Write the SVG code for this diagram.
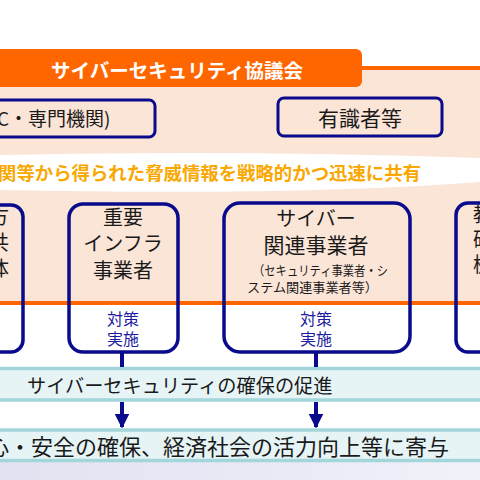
<svg xmlns="http://www.w3.org/2000/svg" width="480" height="480" viewBox="0 0 480 480">
<defs>
<style>
.jp{font-family:"Noto Sans CJK JP","Noto Sans CJK SC",sans-serif;}
.box{fill:none;stroke:#0a0a8c;stroke-width:3.5;}
.tbox{fill:#fbe5d7;stroke:#0a0a8c;stroke-width:3;}
.blk{fill:#1a1a1a;}
.nav{fill:#1c1ca0;}
.band{fill:#e6f4f6;}
.bl{stroke:#a3d6db;stroke-width:3.5;}
.conn{stroke:#0a0a8c;stroke-width:4;fill:none;}
</style>
<linearGradient id="lav" x1="0" y1="0" x2="1" y2="0">
<stop offset="0" stop-color="#e2e2f2"/>
<stop offset="0.6" stop-color="#eaeaf6"/>
<stop offset="1" stop-color="#f2f2fa"/>
</linearGradient>
<marker id="ah" viewBox="0 0 10 10" refX="9" refY="5" markerWidth="3.6" markerHeight="3.6" orient="auto">
<path d="M0,0 L10,5 L0,10 Z" fill="#0a0a8c"/>
</marker>
</defs>
<rect width="480" height="480" fill="#ffffff"/>
<g id="background">
<rect x="0" y="68" width="480" height="235" fill="#fbe5d7"/>
<rect x="0" y="66" width="480" height="4" fill="#ff6600"/>
<path d="M0,49 H356 a6,6 0 0 1 6,6 V81 a6,6 0 0 1 -6,6 H0 Z" fill="#ff6600"/>
<rect x="0" y="301" width="480" height="4" fill="#ff6600"/>
<path d="M0,155 Q240,150 480,158 L480,182 Q300,196 0,190 Z" fill="#ffffff"/>
<rect x="0" y="462" width="480" height="18" fill="url(#lav)"/>
</g>
<g id="title">
<text class="jp" x="177" y="78" text-anchor="middle" font-size="19.5" font-weight="bold" fill="#ffffff">サイバーセキュリティ協議会</text>
</g>
<g id="node-expert-org">
<rect class="tbox" x="-20" y="100" width="175" height="37" rx="6"/>
<text class="jp blk" x="-3" y="126" font-size="19">C・専門機関)</text>
</g>
<g id="node-experts">
<rect class="tbox" x="278" y="98" width="164" height="38" rx="6"/>
<text class="jp blk" x="360" y="126" text-anchor="middle" font-size="21">有識者等</text>
</g>
<g id="banner">
<text class="jp" x="-2" y="180" font-size="18.4" font-weight="bold" fill="#f8a800">関等から得られた脅威情報を戦略的かつ迅速に共有</text>
</g>
<g id="node-local-gov">
<rect class="box" x="-20" y="205" width="43" height="147" rx="12"/>
<text class="jp blk" x="9" y="224" text-anchor="end" font-size="20">地方</text>
<text class="jp blk" x="9" y="250" text-anchor="end" font-size="20">公共</text>
<text class="jp blk" x="9" y="276" text-anchor="end" font-size="20">団体</text>
</g>
<g id="node-infra">
<rect class="box" x="69" y="204" width="109" height="148" rx="14"/>
<text class="jp blk" x="123" y="225" text-anchor="middle" font-size="20">重要</text>
<text class="jp blk" x="123" y="251" text-anchor="middle" font-size="20">インフラ</text>
<text class="jp blk" x="123" y="278" text-anchor="middle" font-size="20">事業者</text>
<text class="jp nav" x="123" y="325" text-anchor="middle" font-size="16">対策</text>
<text class="jp nav" x="123" y="345" text-anchor="middle" font-size="16">実施</text>
</g>
<g id="node-cyber-biz">
<rect class="box" x="224" y="203" width="186" height="149" rx="16"/>
<text class="jp blk" x="316" y="226" text-anchor="middle" font-size="20">サイバー</text>
<text class="jp blk" x="316" y="253" text-anchor="middle" font-size="21">関連事業者</text>
<text class="jp blk" x="253" y="275" font-size="13" textLength="135" lengthAdjust="spacingAndGlyphs">（セキュリティ事業者・シ</text>
<text class="jp blk" x="247" y="292" font-size="13" textLength="131" lengthAdjust="spacingAndGlyphs">ステム関連事業者等）</text>
<text class="jp nav" x="316" y="325" text-anchor="middle" font-size="16">対策</text>
<text class="jp nav" x="316" y="345" text-anchor="middle" font-size="16">実施</text>
</g>
<g id="node-edu">
<rect class="box" x="456" y="203" width="50" height="149" rx="12"/>
<text class="jp blk" x="473" y="222" font-size="20">教育</text>
<text class="jp blk" x="473" y="247" font-size="20">研究</text>
<text class="jp blk" x="473" y="272" font-size="20">機関</text>
</g>
<g id="node-promote">
<rect class="band" x="0" y="368" width="480" height="32"/>
<line class="bl" x1="0" y1="368.5" x2="480" y2="368.5"/>
<line class="bl" x1="0" y1="400" x2="480" y2="400"/>
<text class="jp blk" x="27" y="393" font-size="19.2">サイバーセキュリティの確保の促進</text>
</g>
<g id="node-contribute">
<rect class="band" x="0" y="430" width="480" height="31"/>
<line class="bl" x1="0" y1="430" x2="480" y2="430"/>
<line class="bl" x1="0" y1="460.5" x2="480" y2="460.5"/>
<text class="jp blk" x="-13" y="455" font-size="22">心・安全の確保、経済社会の活力向上等に寄与</text>
</g>
<g id="connectors">
<line class="conn" x1="122" y1="352" x2="122" y2="367"/>
<line class="conn" x1="316" y1="352" x2="316" y2="367"/>
<line class="conn" x1="122" y1="402" x2="122" y2="427" marker-end="url(#ah)"/>
<line class="conn" x1="316" y1="402" x2="316" y2="427" marker-end="url(#ah)"/>
</g>
</svg>
